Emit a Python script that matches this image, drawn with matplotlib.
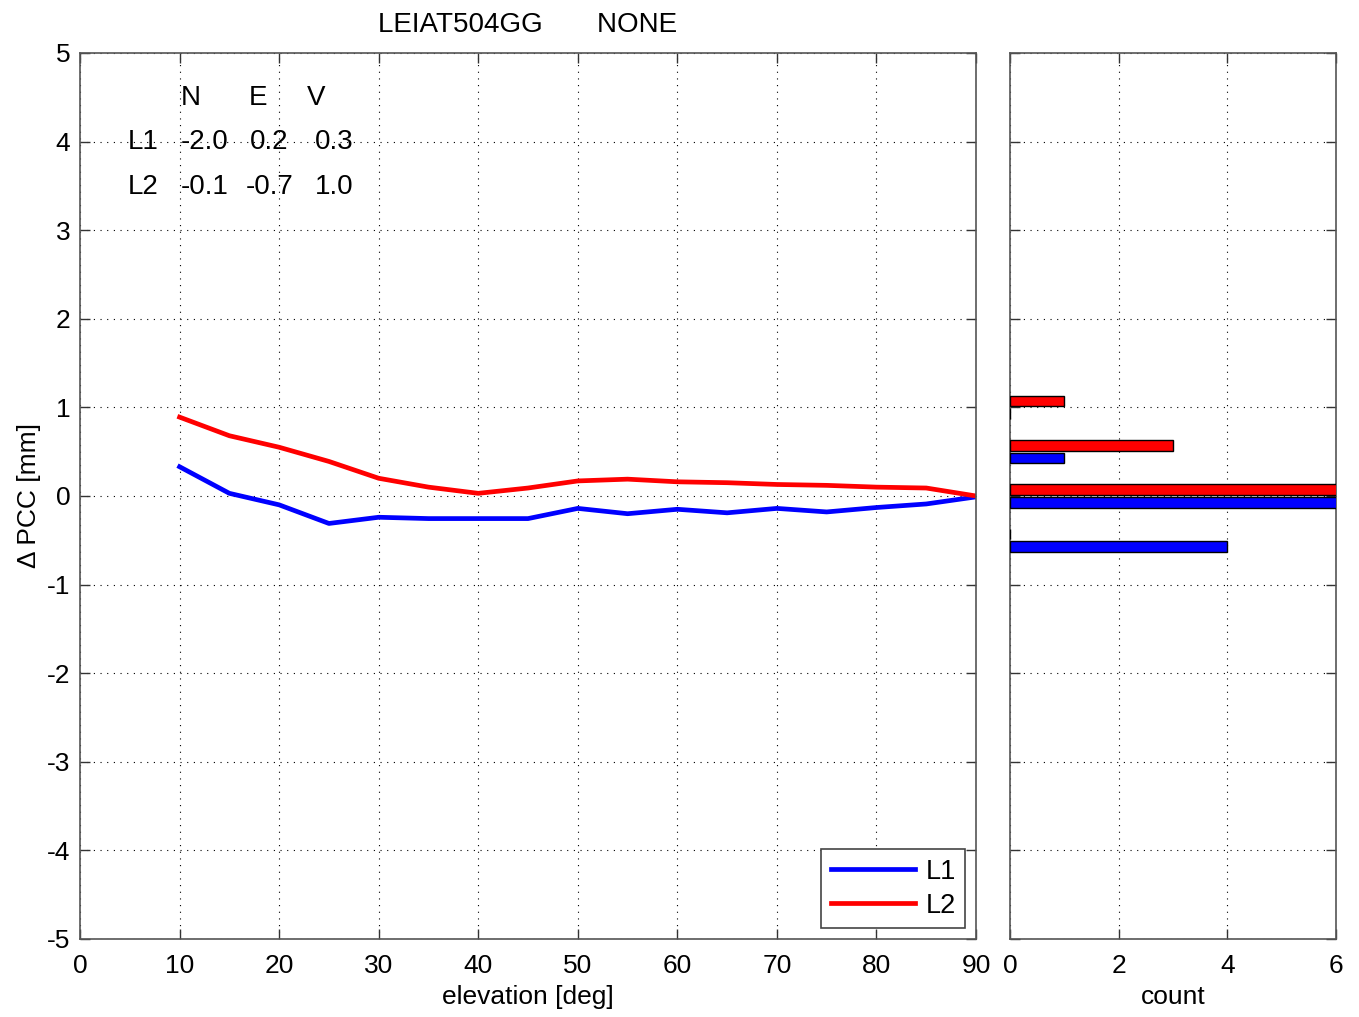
import numpy as np
import matplotlib.pyplot as plt

plt.rcParams['font.family'] = ['Liberation Sans', 'DejaVu Sans']
plt.rcParams['font.size'] = 19
plt.rcParams['axes.unicode_minus'] = False

# elevation grid and PCC differences [mm]
elev = [10, 15, 20, 25, 30, 35, 40, 45, 50, 55, 60, 65, 70, 75, 80, 85, 90]
l1_pcc = [0.33, 0.03, -0.10, -0.31, -0.24, -0.255, -0.255, -0.255, -0.14,
          -0.20, -0.15, -0.19, -0.14, -0.18, -0.13, -0.09, -0.01]
l2_pcc = [0.89, 0.68, 0.55, 0.39, 0.20, 0.10, 0.03, 0.09, 0.17,
          0.19, 0.16, 0.15, 0.13, 0.12, 0.10, 0.09, 0.0]

# histogram of the values
bin_centers = [-0.5, 0.0, 0.5, 1.0]
l1_counts = [4, 12, 1, 0]
l2_counts = [0, 13, 3, 1]

# offset table (N, E, V)
table_cols = ['N', 'E', 'V']
table_rows = ['L1', 'L2']
table_vals = [[-2.0, 0.2, 0.3],
              [-0.1, -0.7, 1.0]]

title = 'LEIAT504GG       NONE'

fig = plt.figure(figsize=(13.59, 10.17), dpi=100)
ax = fig.add_axes([0.0589, 0.0767, 0.6593, 0.8712])
axh = fig.add_axes([0.7432, 0.0767, 0.2399, 0.8712])

grid_kw = dict(color='black', linestyle=(0, (1, 5)), linewidth=0.8)

ax.plot(elev, l1_pcc, color='blue', lw=3.4, label='L1')
ax.plot(elev, l2_pcc, color='red', lw=3.4, label='L2')
ax.set_xlim(0, 90)
ax.set_ylim(-5, 5)
ax.set_xticks(range(0, 91, 10))
ax.set_yticks(range(-5, 6))
ax.grid(True, **grid_kw)
ax.set_xlabel('elevation [deg]')
ax.set_ylabel('Δ PCC [mm]')
ax.set_title(title, fontsize=20, pad=15)
leg = ax.legend(loc='lower right', fancybox=False, edgecolor='#444444',
                framealpha=1, handlelength=3.1, borderaxespad=0.4,
                borderpad=0.35, labelspacing=0.3, handletextpad=0.4,
                fontsize=19.5)
leg.get_frame().set_linewidth(1.2)

# N/E/V table
col_x = [11.15, 17.9, 23.7]
val_x = [12.5, 19.0, 25.5]
for cx, c in zip(col_x, table_cols):
    ax.text(cx, 4.49, c, ha='center', va='center', fontsize=20)
for ry, r, vals in zip([3.99, 3.49], table_rows, table_vals):
    ax.text(6.3, ry, r, ha='center', va='center', fontsize=20)
    for vx, v in zip(val_x, vals):
        ax.text(vx, ry, f'{v:.1f}', ha='center', va='center', fontsize=20)

off = 0.072
axh.barh(np.array(bin_centers) + off, l2_counts, height=0.12, color='red',
         edgecolor='black', linewidth=1, zorder=3)
axh.barh(np.array(bin_centers) - off, l1_counts, height=0.12, color='blue',
         edgecolor='black', linewidth=1, zorder=3)
axh.set_xlim(0, 6)
axh.set_ylim(-5, 5)
axh.set_xticks([0, 2, 4, 6])
axh.set_yticks(range(-5, 6))
axh.set_yticklabels([])
axh.grid(True, **grid_kw)
axh.set_xlabel('count')

for a in (ax, axh):
    a.tick_params(direction='in', length=7, top=True, right=True, width=1,
                  color='#333333')
    a.tick_params(axis='x', pad=11)
    a.tick_params(axis='y', pad=7)
    for s in a.spines.values():
        s.set_color('#555555')
        s.set_linewidth(1.2)
    a.xaxis.labelpad = 5

fig.savefig('out.png', dpi=100)
